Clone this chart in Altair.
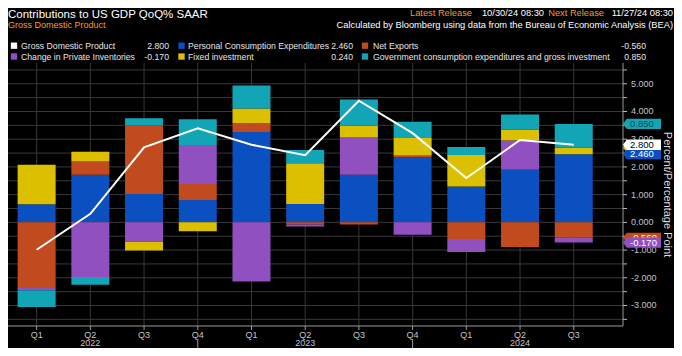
import altair as alt
import pandas as pd

# ---------------- data ----------------
quarters = ["Q1", "Q2", "Q3", "Q4", "Q1", "Q2", "Q3", "Q4", "Q1", "Q2", "Q3"]
years = ["2022", "2023", "2024"]
year_center_idx = [1, 5, 9]
year_break_idx = [3, 7]

gdp = [-0.99, 0.31, 2.71, 3.39, 2.80, 2.42, 4.39, 3.22, 1.60, 2.97, 2.80]
pce = [0.65, 1.72, 1.02, 0.81, 3.26, 0.66, 1.72, 2.35, 1.29, 1.90, 2.46]
nx = [-2.37, 0.48, 2.48, 0.57, 0.32, -0.08, -0.08, 0.06, -0.60, -0.89, -0.56]
inv = [-0.08, -1.97, -0.70, 1.41, -2.13, -0.07, 1.34, -0.45, -0.47, 1.05, -0.17]
fixed = [1.43, 0.35, -0.32, -0.32, 0.53, 1.47, 0.43, 0.63, 1.14, 0.40, 0.24]
gov = [-0.60, -0.28, 0.26, 0.93, 0.83, 0.48, 0.94, 0.59, 0.29, 0.54, 0.85]

y_tick_values = [-3.5, -3.0, -2.5, -2.0, -1.5, -1.0, -0.5, 0.0, 0.5, 1.0, 1.5,
                 2.0, 2.5, 3.0, 3.5, 4.0, 4.5, 5.0, 5.5]
y_label_values = [-3, -2, -1, 0, 1, 2, 3, 4, 5]

series_names = [
    "Gross Domestic Product",
    "Personal Consumption Expenditures",
    "Net Exports",
    "Change in Private Inventories",
    "Fixed investment",
    "Government consumption expenditures and gross investment",
]
series_colors = ["#ffffff", "#0b50c0", "#c24a1f", "#9150c0", "#dcc000", "#12a5b5"]
tag_text_colors = ["#000000", "#ffffff", "#ffffff", "#ffffff", "#000000", "#0a4a52"]

title_text = "Contributions to US GDP QoQ% SAAR"
subtitle_text = "Gross Domestic Product"
release_parts = ["Latest Release", "10/30/24 08:30", "Next Release", "11/27/24 08:30"]
source_text = "Calculated by Bloomberg using data from the Bureau of Economic Analysis (BEA)"
y_title = "Percent/Percentage Point"

# ---------------- styling / layout ----------------
FONT = "Liberation Sans, Arial, sans-serif"
ORANGE = "#f39a37"
GRID = "#383838"
AXIS = "#9a9a9a"
LABEL = "#c4c4c4"
W, H = 615, 263

components = [pce, nx, inv, fixed, gov]
comp_names = series_names[1:]

rows = []
for k, (name, vals) in enumerate(zip(comp_names, components)):
    for i, v in enumerate(vals):
        rows.append({"idx": i, "series": name, "value": v, "ord": k})
bars_df = pd.DataFrame(rows)
line_df = pd.DataFrame({"idx": list(range(len(gdp))), "gdp": gdp})
q_df = pd.DataFrame({"idx": list(range(len(quarters))), "q": quarters})
yt_df = pd.DataFrame({"v": y_tick_values})
yl_df = pd.DataFrame({"v": y_label_values, "lab": [f"{v:.3f}" for v in y_label_values]})
one = pd.DataFrame({"a": [0]})

xscale = alt.Scale(domain=[-0.44, 10.824], nice=False, zero=False)
yscale = alt.Scale(domain=[-3.74, 5.75], nice=False, zero=False)

def X(field):
    return alt.X(field, scale=xscale, axis=None)

def Y(field):
    return alt.Y(field, scale=yscale, axis=None)

layers = []

# ---- grid (behind bars)
layers.append(alt.Chart(yt_df).mark_rule(color=GRID, strokeWidth=1).encode(
    y=Y("v:Q"), x=alt.value(0), x2=alt.value(W)))
layers.append(alt.Chart(q_df).mark_rule(color=GRID, strokeWidth=1).encode(
    x=X("idx:Q"), y=alt.value(0), y2=alt.value(H)))

# ---- stacked contributions
layers.append(alt.Chart(bars_df).mark_bar(size=38, strokeWidth=0).encode(
    x=X("idx:Q"),
    y=alt.Y("value:Q", stack="zero", scale=yscale, axis=None),
    color=alt.Color("series:N", scale=alt.Scale(domain=comp_names, range=series_colors[1:]),
                    legend=None),
    order=alt.Order("ord:Q"),
))

# ---- GDP line
layers.append(alt.Chart(line_df).mark_line(color="#ffffff", strokeWidth=2).encode(
    x=X("idx:Q"), y=Y("gdp:Q")))

# ---- axes: domains, ticks, labels
layers.append(alt.Chart(one).mark_rule(color=AXIS, strokeWidth=1).encode(
    x=alt.value(0), x2=alt.value(W), y=alt.value(H)))
layers.append(alt.Chart(one).mark_rule(color=AXIS, strokeWidth=1).encode(
    x=alt.value(W), y=alt.value(0), y2=alt.value(H)))
layers.append(alt.Chart(q_df).mark_rule(color=AXIS, strokeWidth=1).encode(
    x=X("idx:Q"), y=alt.value(H), y2=alt.value(H + 4)))
layers.append(alt.Chart(yt_df).mark_rule(color="#bbbbbb", strokeWidth=1).encode(
    y=Y("v:Q"), x=alt.value(W), x2=alt.value(W + 4)))
layers.append(alt.Chart(yl_df).mark_text(font=FONT, fontSize=9, color=LABEL, align="left",
                                         baseline="middle").encode(
    y=Y("v:Q"), x=alt.value(W + 8), text="lab:N"))

# ---- quarter labels, year labels, separators
layers.append(alt.Chart(q_df).mark_text(font=FONT, fontSize=9, color=LABEL, baseline="middle").encode(
    x=X("idx:Q"), y=alt.value(H + 9), text="q:N"))
yr_df = pd.DataFrame({"idx": year_center_idx, "year": years})
layers.append(alt.Chart(yr_df).mark_text(font=FONT, fontSize=9, color=LABEL, baseline="middle").encode(
    x=X("idx:Q"), y=alt.value(H + 17), text="year:N"))
br_df = pd.DataFrame({"idx": year_break_idx})
layers.append(alt.Chart(br_df).mark_rule(color=AXIS, strokeWidth=1).encode(
    x=X("idx:Q"), y=alt.value(H + 13), y2=alt.value(H + 22)))

# ---- right-hand value tags for the latest quarter
last = len(gdp) - 1
pos_cum, neg_cum = 0.0, 0.0
tag_pos = {}
for name, vals in zip(comp_names, components):
    v = vals[last]
    if v >= 0:
        pos_cum += v
        tag_pos[name] = pos_cum
    else:
        neg_cum += v
        tag_pos[name] = neg_cum
tag_pos[series_names[0]] = gdp[last]
latest_vals = {series_names[0]: gdp[last]}
for name, vals in zip(comp_names, components):
    latest_vals[name] = vals[last]

tag_shape = "M -1 0 L -0.8 -0.27 L 1 -0.27 L 1 0.27 L -0.8 0.27 Z"
draw_order = [4, 5, 1, 0, 2, 3]
for k in draw_order:
    name = series_names[k]
    tdf = pd.DataFrame({"y": [tag_pos[name]], "label": [f"{latest_vals[name]:.3f}"]})
    layers.append(alt.Chart(tdf).mark_point(shape=tag_shape, size=1444, filled=True, opacity=1,
                                            color=series_colors[k], strokeWidth=0).encode(
        x=alt.value(W + 19), y=Y("y:Q")))
    layers.append(alt.Chart(tdf).mark_text(font=FONT, fontSize=9.5, align="left", baseline="middle",
                                           color=tag_text_colors[k]).encode(
        x=alt.value(W + 7), y=Y("y:Q"), text="label:N"))

# ---- y-axis title
layers.append(alt.Chart(pd.DataFrame({"t": [y_title]})).mark_text(
    font=FONT, fontSize=11, color="#dddddd", angle=90, align="center", baseline="middle").encode(
    x=alt.value(W + 44), y=alt.value(H / 2), text="t:N"))

# ---- header
def txt(s, x, y, color, size, align="left"):
    return alt.Chart(pd.DataFrame({"t": [s]})).mark_text(
        font=FONT, fontSize=size, color=color, align=align, baseline="middle").encode(
        x=alt.value(x), y=alt.value(y), text="t:N")

layers.append(txt(title_text, 0, -48.5, "#ffffff", 11.5))
layers.append(txt(subtitle_text, 0, -38.5, ORANGE, 9))
rel_ends = [464, 536, 596, 665]
rel_cols = [ORANGE, "#ffffff", ORANGE, "#ffffff"]
for s, xe, c in zip(release_parts, rel_ends, rel_cols):
    layers.append(txt(s, xe, -50, c, 9.3, "right"))
layers.append(txt(source_text, 665, -38, "#ffffff", 9.3, "right"))

# ---- custom legend
leg_rows = [-17.3, -6.5]
leg_cols = [(6, 13, 161), (173.5, 180, 345), (357, 365, 638)]
leg_vals = [gdp[last], pce[last], nx[last], inv[last], fixed[last], gov[last]]
for k, name in enumerate(series_names):
    r, c = divmod(k, 3)
    sx, tx, vx = leg_cols[c]
    yy = leg_rows[r]
    layers.append(alt.Chart(pd.DataFrame({"t": [name]})).mark_square(
        size=40, color=series_colors[k], opacity=1, filled=True).encode(
        x=alt.value(sx), y=alt.value(yy)))
    layers.append(txt(name, tx, yy, "#e6e6e6", 8.7))
    layers.append(txt(f"{leg_vals[k]:.3f}", vx, yy, "#e6e6e6", 8.7, "right"))

chart = alt.layer(*layers).properties(
    width=W, height=H,
    autosize=alt.AutoSizeParams(type="none"),
    padding={"left": 0, "top": 55, "right": 51, "bottom": 22},
    background="#000000",
).configure_view(stroke="transparent")

chart.save("out.html", embed_options={"renderer": "svg", "actions": False})
